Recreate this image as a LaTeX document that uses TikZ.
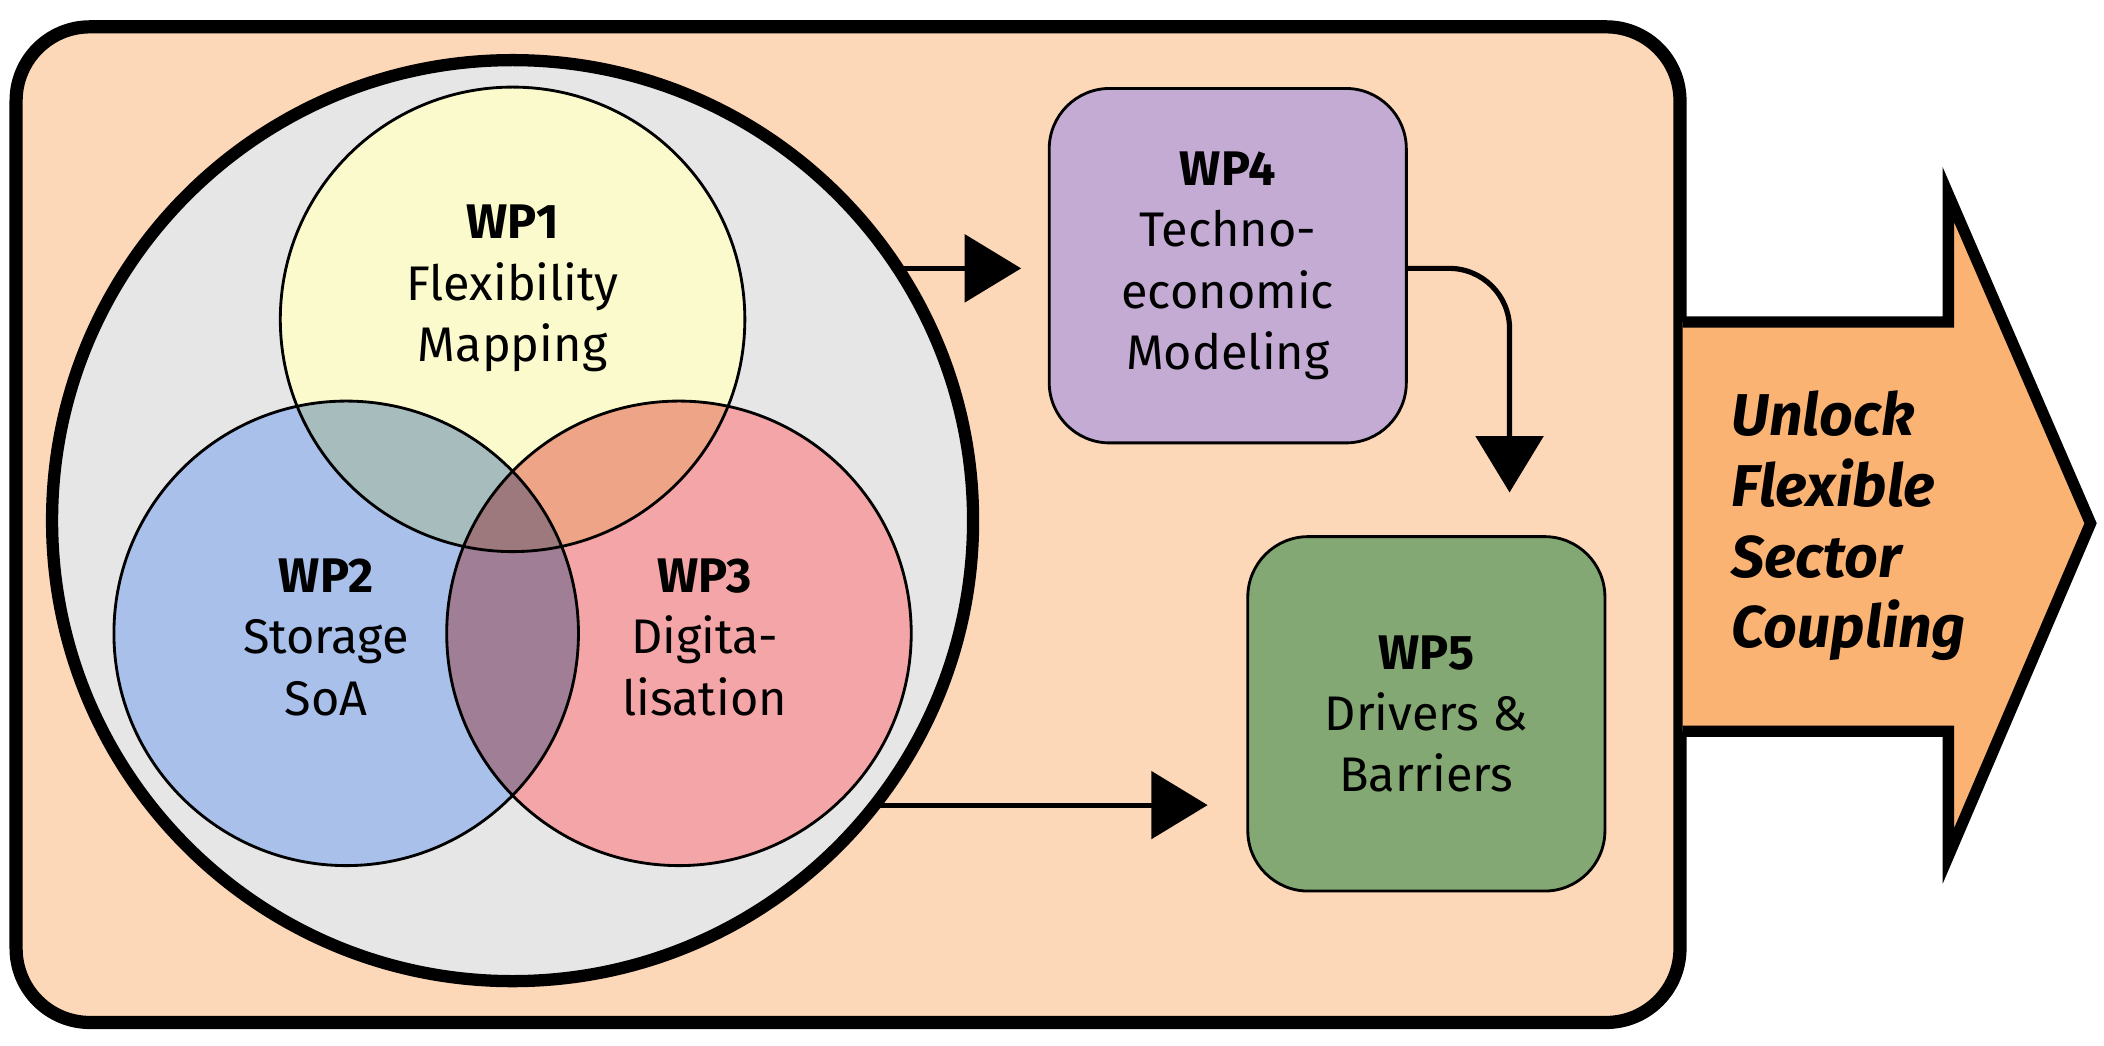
\documentclass[tikz,border=0pt]{standalone}
\usepackage{fontspec}
\setmainfont{Fira Sans}
\usetikzlibrary{arrows.meta}
\definecolor{bg}{HTML}{FDD8B8}
\definecolor{big}{HTML}{E6E6E6}
\definecolor{cA}{HTML}{FAFACD}
\definecolor{cB}{HTML}{A8C0EA}
\definecolor{cC}{HTML}{F4A5A7}
\definecolor{cAB}{HTML}{A7BDBD}
\definecolor{cAC}{HTML}{EEA587}
\definecolor{cBC}{HTML}{A07E96}
\definecolor{cABC}{HTML}{9D787C}
\definecolor{wpf}{HTML}{C4ABD4}
\definecolor{wpg}{HTML}{84A873}
\definecolor{arr}{HTML}{FBB373}
\begin{document}
\begin{tikzpicture}[x=0.01cm,y=-0.01cm,
  txt/.style={align=center,font=\fontsize{10.3}{13}\selectfont},
  box/.style={draw,line width=0.6pt,rounded corners=0.45cm,minimum width=2.66cm,minimum height=2.64cm,txt},
  conn/.style={line width=1.1pt,-{Triangle[length=4.2mm,width=5mm]}},
  thin/.style={line width=0.6pt}]
\useasboundingbox (0,0) rectangle (1568,779);
\draw[fill=bg,line width=2.8pt,rounded corners=0.55cm] (12,20) rectangle (1252,762);
\node[circle,draw,line width=2.6pt,fill=big,minimum size=6.86cm,inner sep=0] (big) at (382,388) {};
% circles
\fill[cA] (382,238) circle[radius=1.73cm];
\fill[cB] (258,472) circle[radius=1.73cm];
\fill[cC] (506,472) circle[radius=1.73cm];
\begin{scope}\clip (382,238) circle[radius=1.73cm];
 \fill[cAB] (258,472) circle[radius=1.73cm];
 \fill[cAC] (506,472) circle[radius=1.73cm];
\end{scope}
\begin{scope}\clip (258,472) circle[radius=1.73cm];
 \fill[cBC] (506,472) circle[radius=1.73cm];
 \clip (382,238) circle[radius=1.73cm];
 \fill[cABC] (506,472) circle[radius=1.73cm];
\end{scope}
\draw[thin] (382,238) circle[radius=1.73cm] (258,472) circle[radius=1.73cm] (506,472) circle[radius=1.73cm];
\node[txt] (wp1) at (382,215) {\textbf{WP1}\\Flexibility\\Mapping};
\node[txt] (wp2) at (243,475) {\textbf{WP2}\\Storage\\SoA};
\node[txt] (wp3) at (525,475) {\textbf{WP3}\\Digita-\\lisation};
\node[box,fill=wpf] (wp4) at (915,198) {\textbf{WP4}\\Techno-\\economic\\Modeling};
\node[box,fill=wpg] (wp5) at (1063,532) {\textbf{WP5}\\Drivers \&\\Barriers};
\coordinate (a1) at (668,200);
\coordinate (a2) at (652,600);
\draw[conn] (a1) -- (761,200);
\draw[conn] (a2) -- (900,600);
\draw[conn,rounded corners=0.45cm] (wp4.east |- 0,200) -- (1125,200) -- (1125,367);
% big arrow
\draw[fill=arr,line width=2.4pt,line join=miter] (1254,240) -- (1452,240) -- (1452,145) -- (1558,390) -- (1452,638) -- (1452,545) -- (1254,545);
\node[align=left,anchor=west,font=\fontsize{12.5}{15}\selectfont\bfseries\itshape] (t) at (1278,392) {Unlock\\Flexible\\Sector\\Coupling};
\end{tikzpicture}
\end{document}
